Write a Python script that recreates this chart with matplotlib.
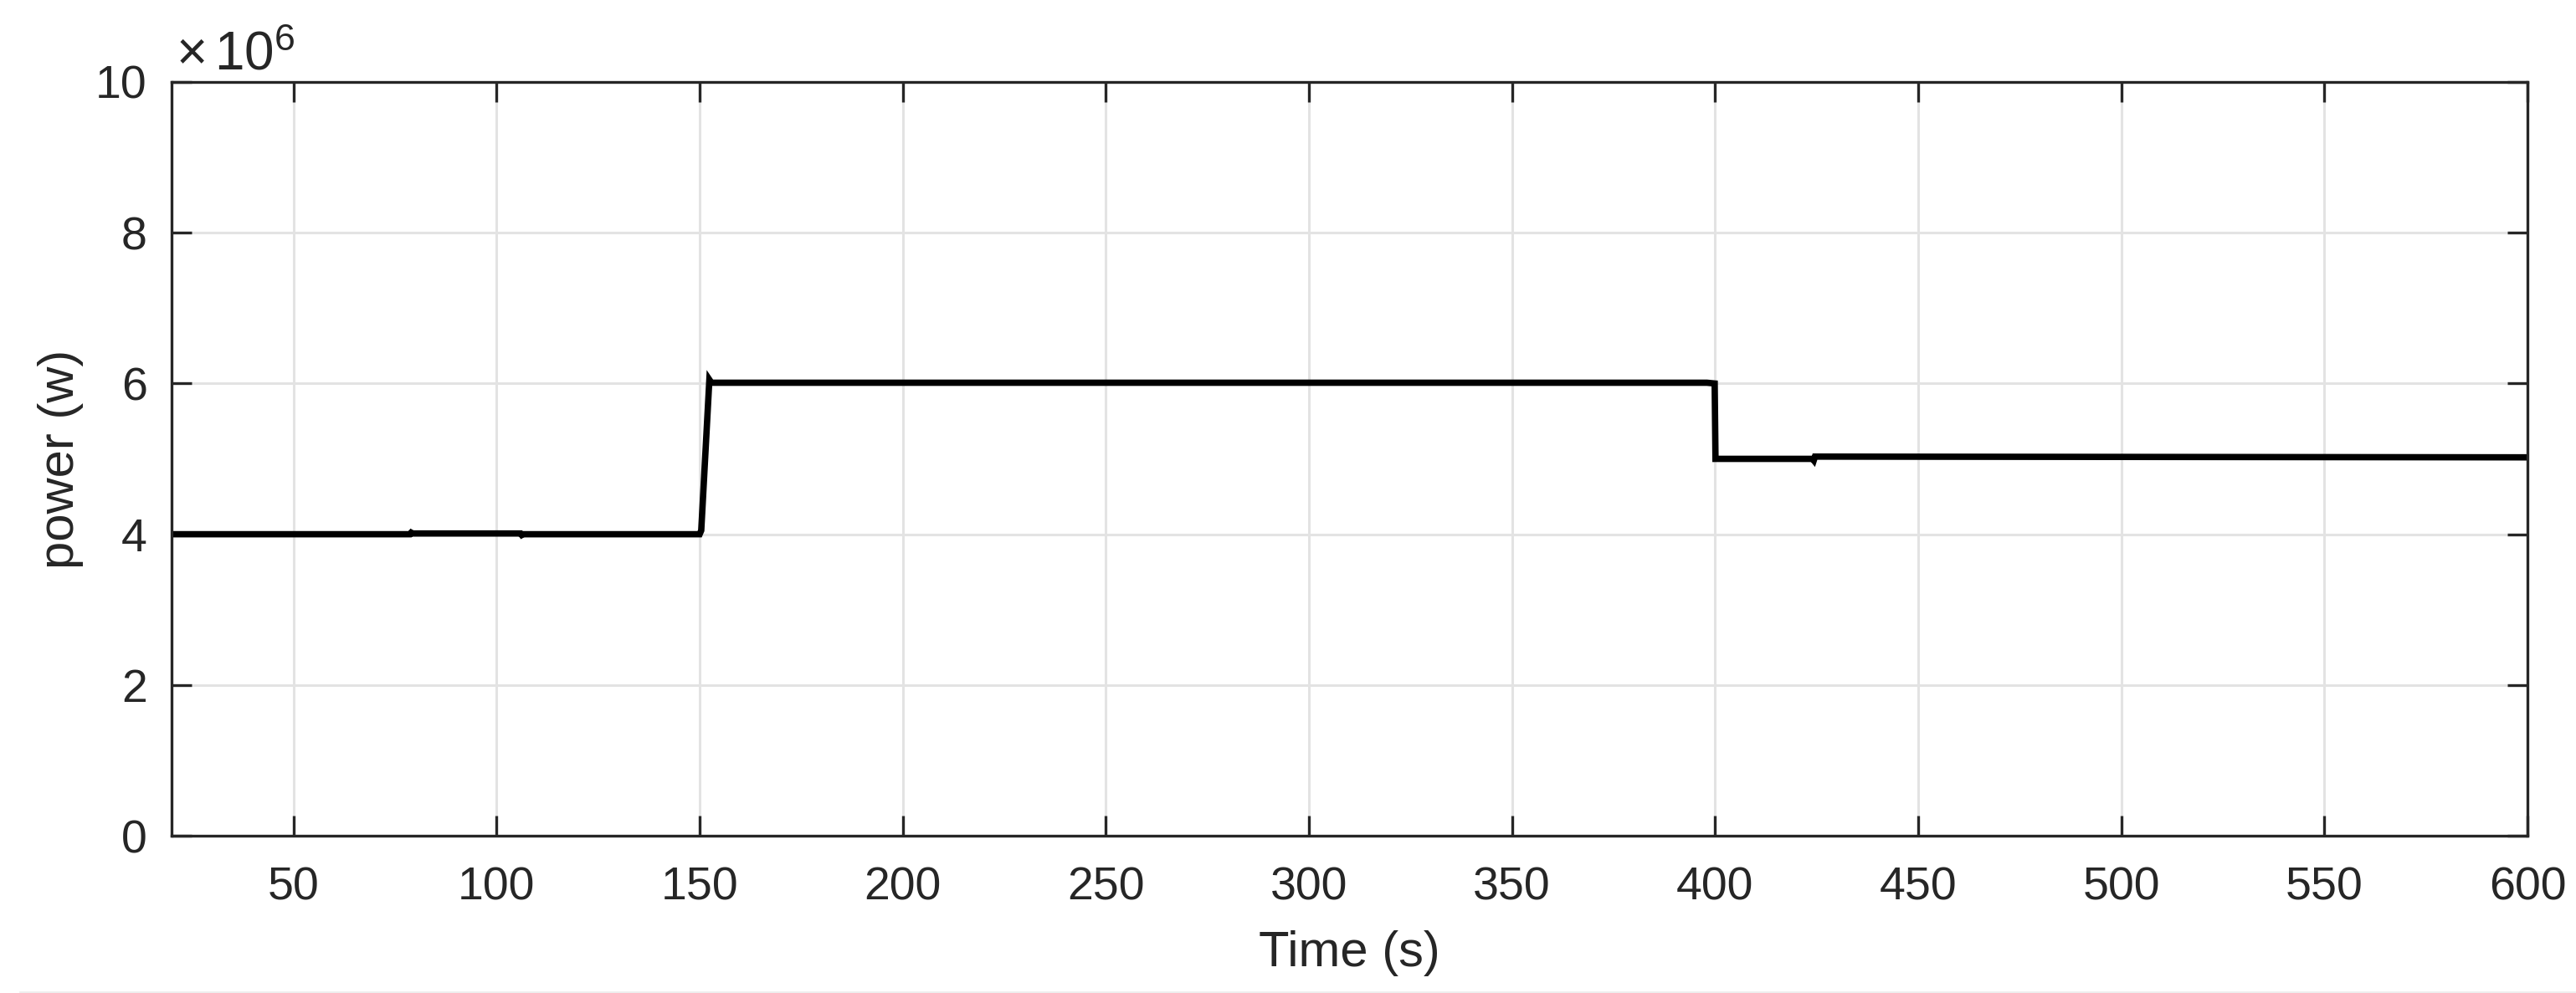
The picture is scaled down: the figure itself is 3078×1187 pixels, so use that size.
import matplotlib
matplotlib.use("Agg")
import matplotlib.pyplot as plt
from matplotlib.lines import Line2D

# ---- data ----
time_s = [20, 78.7, 79.0, 79.3, 105.9, 106.2, 106.5, 150.0, 150.4, 152.4, 152.9, 155, 398, 399.9, 400.1,
          424.0, 424.3, 424.6, 600]
power_w = [4.00e6, 4.00e6, 4.02e6, 4.01e6, 4.01e6, 3.99e6, 4.00e6, 4.00e6, 4.05e6, 6.05e6, 6.01e6, 6.01e6,
           6.01e6, 6.00e6, 5.00e6, 5.00e6, 4.98e6, 5.03e6, 5.02e6]
xticks = [50, 100, 150, 200, 250, 300, 350, 400, 450, 500, 550, 600]
yticks = [0, 2, 4, 6, 8, 10]
y_scale = 1e6

plt.rcParams['font.family'] = ['Liberation Sans', 'DejaVu Sans']
plt.rcParams['mathtext.fontset'] = 'custom'
plt.rcParams['mathtext.rm'] = 'Liberation Sans'
plt.rcParams['mathtext.it'] = 'Liberation Sans'

W, H = 3078, 1187
fig = plt.figure(figsize=(W / 100, H / 100), dpi=100)
left, right, top, bottom = 205, 3020, 98, 999
ax = fig.add_axes([left / W, 1 - bottom / H, (right - left) / W, (bottom - top) / H])

ax.plot(time_s, [p / y_scale for p in power_w], color='black', lw=5.5, solid_joinstyle='miter')

ax.set_xlim(20, 600)
ax.set_ylim(0, 10)
ax.set_xticks(xticks)
ax.set_yticks(yticks)
ax.set_xticklabels([str(t) for t in xticks])
ax.set_yticklabels([str(t) for t in yticks])

dark = '#262626'
ax.grid(True, color='#e3e3e3', lw=2.2)
ax.set_axisbelow(True)
for s in ax.spines.values():
    s.set_color(dark)
    s.set_linewidth(2.4)
ax.tick_params(direction='in', length=17, width=2.4, color=dark, labelcolor=dark,
               labelsize=40, top=True, right=True)
ax.tick_params(axis='y', pad=21)
ax.tick_params(axis='x', pad=26)

ax.set_xlabel('Time (s)', fontsize=43, color=dark, labelpad=18)
ax.set_ylabel('power (w)', fontsize=43, color=dark, labelpad=10)

fig.text(210 / W, 1 - 84 / H, r'$\times\,10^{6}$', fontsize=46, color=dark, ha='left', va='baseline')

fig.add_artist(Line2D([24 / W, 1], [1.5 / H, 1.5 / H], transform=fig.transFigure,
                      color='#eeeeee', lw=2))

fig.savefig('out.png', dpi=100)
